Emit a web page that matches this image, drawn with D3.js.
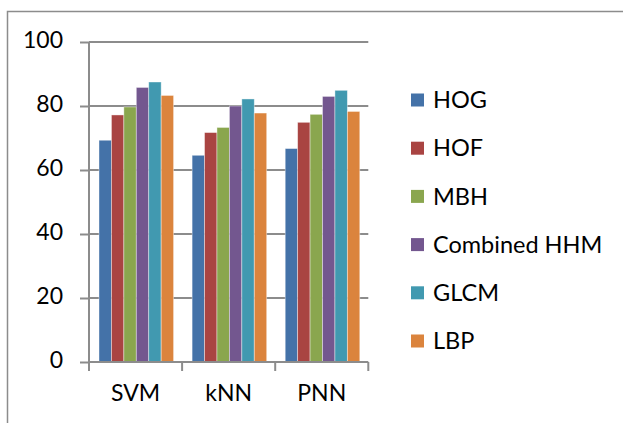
<!DOCTYPE html>
<html>
<head>
<meta charset="utf-8">
<script src="https://cdn.jsdelivr.net/npm/d3@7"></script>
<style>
  html, body { margin: 0; padding: 0; background: #fff; }
  svg { display: block; }
  text { font-family: Lato, "Open Sans", sans-serif; fill: #000; }
</style>
</head>
<body>
<svg id="chart" width="623" height="423"></svg>
<script>
const categories = ["SVM", "kNN", "PNN"];
const seriesNames = ["HOG", "HOF", "MBH", "Combined HHM", "GLCM", "LBP"];
const hogValues = [69.3, 64.6, 66.7];
const hofValues = [77.2, 71.7, 74.9];
const mbhValues = [79.7, 73.3, 77.4];
const combinedValues = [85.8, 80.0, 83.0];
const glcmValues = [87.5, 82.2, 84.9];
const lbpValues = [83.3, 77.8, 78.3];
const yTicks = [0, 20, 40, 60, 80, 100];
const colors = ["#4472a8", "#a94442", "#8aa64e", "#73578f", "#4199b0", "#db843d"];

const seriesValues = [hogValues, hofValues, mbhValues, combinedValues, glcmValues, lbpValues];
const data = categories.map((c, i) => ({
  cat: c,
  vals: seriesNames.map((s, j) => ({ name: s, value: seriesValues[j][i], color: colors[j] }))
}));

const svg = d3.select("#chart");

// outer frame
svg.append("rect")
  .attr("x", 7.5).attr("y", 11.5)
  .attr("width", 640).attr("height", 440)
  .attr("fill", "none").attr("stroke", "#8c8c8c").attr("stroke-width", 1.5);

const pLeft = 89, pRight = 368.3, pTop = 42, pBottom = 362;

const x = d3.scaleBand().domain(categories).range([pLeft, pRight]).padding(0);
const x1 = d3.scaleBand().domain(seriesNames).range([10, x.bandwidth() - 8.5]).padding(0);
const y = d3.scaleLinear().domain([0, 100]).range([pBottom, pTop]);

// gridlines
svg.append("g").selectAll("line").data(yTicks.filter(t => t > 0)).join("line")
  .attr("x1", pLeft).attr("x2", pRight)
  .attr("y1", d => y(d)).attr("y2", d => y(d))
  .attr("stroke", "#8c8c8c").attr("stroke-width", 2);

// bars
const groups = svg.append("g").selectAll("g").data(data).join("g")
  .attr("transform", d => `translate(${x(d.cat)},0)`);
groups.selectAll("rect").data(d => d.vals).join("rect")
  .attr("x", d => x1(d.name))
  .attr("width", x1.bandwidth())
  .attr("y", d => y(d.value))
  .attr("height", d => y(0) - y(d.value))
  .attr("fill", d => d.color)
  .attr("stroke", "#ffffff").attr("stroke-opacity", 0.5).attr("stroke-width", 0.8);

// y axis
const yAxis = d3.axisLeft(y).tickValues(yTicks).tickSize(9).tickPadding(17);
const gy = svg.append("g").attr("transform", `translate(${pLeft},0)`).call(yAxis);
gy.select(".domain").attr("stroke", "#8c8c8c").attr("stroke-width", 2).attr("d", `M0,${pTop}V${pBottom}`);
gy.selectAll(".tick line").attr("stroke", "#8c8c8c").attr("stroke-width", 2);
gy.selectAll(".tick text").style("font-family", "Lato, sans-serif").style("font-size", "23px")
  .attr("fill", "#000").attr("dy", "0.22em");

// x axis
const xAxis = d3.axisBottom(x).tickSize(0).tickPadding(23);
const gx = svg.append("g").attr("transform", `translate(0,${pBottom})`).call(xAxis);
gx.select(".domain").attr("stroke", "#8c8c8c").attr("stroke-width", 2).attr("d", `M${pLeft},0H${pRight}`);
gx.selectAll(".tick text").style("font-family", "Lato, sans-serif").style("font-size", "23px").attr("fill", "#000");
// category boundary ticks
const bounds = categories.map(c => x(c)).concat([x(categories[categories.length - 1]) + x.bandwidth()]);
gx.append("g").selectAll("line").data(bounds).join("line")
  .attr("x1", d => d).attr("x2", d => d).attr("y1", 0).attr("y2", 9)
  .attr("stroke", "#8c8c8c").attr("stroke-width", 2);

// legend
const legendY = d3.scalePoint().domain(seriesNames).range([100, 341]);
const lg = svg.append("g").selectAll("g").data(seriesNames).join("g")
  .attr("transform", d => `translate(411,${legendY(d)})`);
lg.append("rect").attr("x", 0).attr("y", -6.5).attr("width", 13).attr("height", 13)
  .attr("fill", (d, i) => colors[i]);
lg.append("text").attr("x", 22).attr("y", 0).attr("dy", "0.35em")
  .style("font-size", "23.5px").text(d => d);
</script>
</body>
</html>
